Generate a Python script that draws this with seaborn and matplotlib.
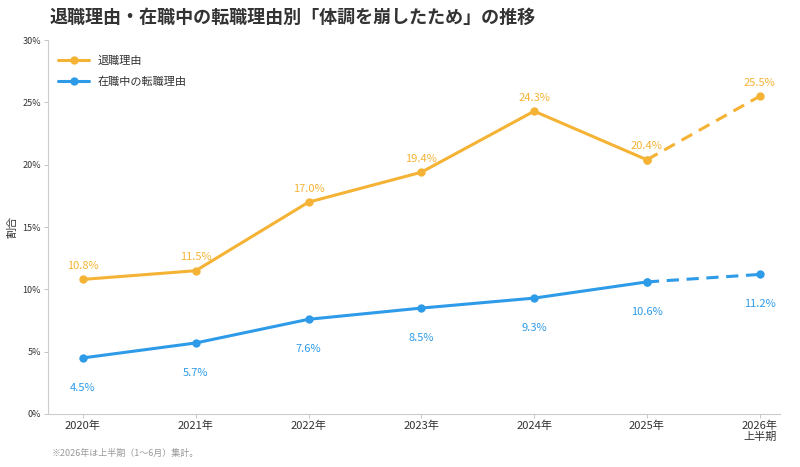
import numpy as np
import pandas as pd
import matplotlib
matplotlib.use("Agg")
import matplotlib.pyplot as plt
import seaborn as sns

# data
years = ["2020年", "2021年", "2022年", "2023年", "2024年", "2025年", "2026年\n上半期"]
retire_reason = [10.8, 11.5, 17.0, 19.4, 24.3, 20.4, 25.5]  # 退職理由
job_change_reason = [4.5, 5.7, 7.6, 8.5, 9.3, 10.6, 11.2]  # 在職中の転職理由
series_names = ["退職理由", "在職中の転職理由"]
y_ticks = [0, 5, 10, 15, 20, 25, 30]

orange = "#F5B335"
blue = "#2E9BE8"

sns.set_theme(style="white")
plt.rcParams['font.family'] = ['Noto Sans CJK JP', 'DejaVu Sans']

x = np.arange(len(years))
df = pd.DataFrame({
    "x": np.concatenate([x, x]),
    "value": retire_reason + job_change_reason,
    "series": [series_names[0]] * len(x) + [series_names[1]] * len(x),
})
solid = df[df["x"] <= 5]
dashed = df[df["x"] >= 5]

fig = plt.figure(figsize=(8, 4.67), dpi=100)
ax = fig.add_axes([0.06, 0.1135, 0.915, 0.8005])

palette = {series_names[0]: orange, series_names[1]: blue}
sns.lineplot(data=solid, x="x", y="value", hue="series", palette=palette,
             marker="o", markersize=6, markeredgewidth=0, linewidth=2.2, ax=ax)
sns.lineplot(data=dashed, x="x", y="value", hue="series", palette=palette,
             marker="o", markersize=6, markeredgewidth=0, linewidth=2.2,
             linestyle=(0, (4, 2.5)), ax=ax, legend=False)

# value labels
for i, v in enumerate(retire_reason):
    ax.annotate(f"{v:.1f}%", (x[i], v), xytext=(0, 6), textcoords="offset points",
                ha="center", va="bottom", color=orange, fontsize=8)
for i, v in enumerate(job_change_reason):
    ax.annotate(f"{v:.1f}%", (x[i], v), xytext=(0, -18), textcoords="offset points",
                ha="center", va="top", color=blue, fontsize=8)

ax.set_xlim(-0.31, 6.18)
ax.set_ylim(0, 30)
ax.set_xticks(x)
ax.set_xticklabels(years, fontsize=8, color="#333333", linespacing=1.0)
ax.set_yticks(y_ticks)
ax.set_yticklabels([f"{t}%" for t in y_ticks], fontsize=6.5, color="#333333")
ax.tick_params(axis="both", which="both", length=3, width=0.6, color="#bbbbbb",
               bottom=True, left=True, pad=2)
ax.set_xlabel("")
ax.set_ylabel("割合", fontsize=8, color="#333333", labelpad=4)

sns.despine(ax=ax)
for side in ["left", "bottom"]:
    ax.spines[side].set_color("#cccccc")
    ax.spines[side].set_linewidth(0.8)

leg = ax.legend(loc="upper left", bbox_to_anchor=(0.0, 0.985), frameon=False,
                fontsize=8, handlelength=2.8, labelspacing=0.9)
for t in leg.get_texts():
    t.set_color("#333333")

fig.text(0.0625, 0.963, "退職理由・在職中の転職理由別「体調を崩したため」の推移",
         fontsize=13, fontweight="bold", color="#333333", ha="left", va="center")
fig.text(0.065, 0.03, "※2026年は上半期（1～6月）集計。", fontsize=6.5,
         color="#999999", ha="left", va="center")

fig.savefig("out.png", dpi=100)
